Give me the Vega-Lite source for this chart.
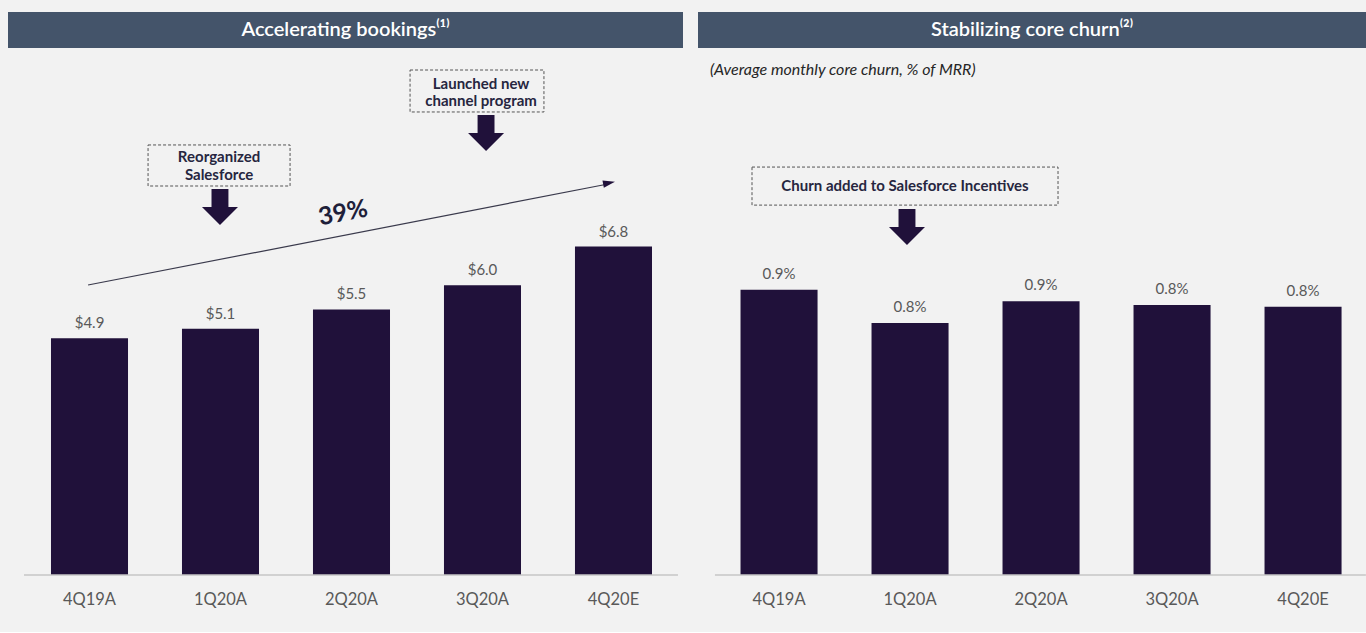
{
  "$schema": "https://vega.github.io/schema/vega-lite/v6.json",
  "background": "#f2f2f2",
  "padding": {"left": 8, "top": 12, "right": 0, "bottom": 24},
  "config": {
    "view": {"stroke": null},
    "font": "Lato",
    "axisX": {"domain": false, "ticks": false, "labelColor": "#595959", "labelFontSize": 16.5, "labelPadding": 16, "labelAngle": 0, "grid": false}
  },
  "spacing": 15,
  "hconcat": [
    {
      "spacing": 4,
      "vconcat": [
        {
          "width": 675, "height": 36,
          "view": {"fill": "#44546a", "stroke": null},
          "data": {"values": [{"t": "Accelerating bookings⁽¹⁾"}]},
          "mark": {"type": "text", "color": "#ffffff", "fontSize": 20, "fontWeight": 600, "font": "Lato"},
          "encoding": {"text": {"field": "t"}}
        },
        {
          "width": 675, "height": 523,
          "resolve": {"scale": {"x": "independent"}, "axis": {"x": "independent"}},
          "layer": [
            {
              "data": {"values": [
                {"q": "4Q19A", "v": 4.9, "lab": "$4.9"},
                {"q": "1Q20A", "v": 5.1, "lab": "$5.1"},
                {"q": "2Q20A", "v": 5.5, "lab": "$5.5"},
                {"q": "3Q20A", "v": 6.0, "lab": "$6.0"},
                {"q": "4Q20E", "v": 6.8, "lab": "$6.8"}
              ]},
              "encoding": {
                "x": {"field": "q", "type": "nominal", "sort": null, "title": null, "scale": {"paddingInner": 0.412, "paddingOuter": 0.2824, "align": 0.581}},
                "y": {"field": "v", "type": "quantitative", "axis": null, "scale": {"domain": [0, 10.83], "nice": false}}
              },
              "layer": [
                {"mark": {"type": "bar", "color": "#20113a"}},
                {"mark": {"type": "text", "baseline": "bottom", "dy": -7, "fontSize": 15, "color": "#595959"}, "encoding": {"text": {"field": "lab"}}}
              ]
            },
            {
              "data": {"values": [{"x1": 0, "x2": 4.992, "y": 0}]},
              "mark": {"type": "rule", "color": "#c6c6c6", "strokeWidth": 1.5},
              "encoding": {
                "x": {"field": "x1", "type": "quantitative", "axis": null, "scale": {"domain": [-0.1221, 5.0305], "nice": false, "zero": false}},
                "x2": {"field": "x2"},
                "y": {"field": "y", "type": "quantitative", "axis": null, "scale": {"domain": [0, 10.83], "nice": false}}
              }
            },
            {
              "data": {"values": [
                {"x1": 2.947, "x2": 3.969, "y1": 9.588, "y2": 10.457},
                {"x1": 0.947, "x2": 2.031, "y1": 8.055, "y2": 8.905}
              ]},
              "mark": {"type": "rect", "fillOpacity": 0, "stroke": "#555555", "strokeWidth": 1, "strokeDash": [3, 2]},
              "encoding": {
                "x": {"field": "x1", "type": "quantitative", "axis": null, "scale": {"domain": [-0.1221, 5.0305], "nice": false, "zero": false}},
                "x2": {"field": "x2"},
                "y": {"field": "y1", "type": "quantitative", "axis": null, "scale": {"domain": [0, 10.83], "nice": false}},
                "y2": {"field": "y2"}
              }
            },
            {
              "data": {"values": [
                {"x": 3.489, "y": 10.168, "t": "Launched new"},
                {"x": 3.489, "y": 9.816, "t": "channel program"},
                {"x": 1.489, "y": 8.656, "t": "Reorganized"},
                {"x": 1.489, "y": 8.283, "t": "Salesforce"}
              ]},
              "mark": {"type": "text", "fontSize": 15, "fontWeight": "bold", "color": "#262640"},
              "encoding": {
                "x": {"field": "x", "type": "quantitative", "axis": null, "scale": {"domain": [-0.1221, 5.0305], "nice": false, "zero": false}},
                "y": {"field": "y", "type": "quantitative", "axis": null, "scale": {"domain": [0, 10.83], "nice": false}},
                "text": {"field": "t"}
              }
            },
            {
              "data": {"values": [
                {"x": 3.527, "y": 9.153},
                {"x": 1.496, "y": 7.621}
              ]},
              "mark": {"type": "point", "filled": true, "opacity": 1, "color": "#20113a", "size": 1296, "shape": "M-0.47,-1L0.47,-1L0.47,0L1,0L0,1L-1,0L-0.47,0Z"},
              "encoding": {
                "x": {"field": "x", "type": "quantitative", "axis": null, "scale": {"domain": [-0.1221, 5.0305], "nice": false, "zero": false}},
                "y": {"field": "y", "type": "quantitative", "axis": null, "scale": {"domain": [0, 10.83], "nice": false}}
              }
            },
            {
              "data": {"values": [
                {"x": 0.489, "y": 6.005},
                {"x": 4.458, "y": 8.097}
              ]},
              "mark": {"type": "line", "color": "#3a3a4c", "strokeWidth": 1.2},
              "encoding": {
                "x": {"field": "x", "type": "quantitative", "axis": null, "scale": {"domain": [-0.1221, 5.0305], "nice": false, "zero": false}},
                "y": {"field": "y", "type": "quantitative", "axis": null, "scale": {"domain": [0, 10.83], "nice": false}}
              }
            },
            {
              "data": {"values": [{"x": 4.466, "y": 8.118}]},
              "mark": {"type": "point", "filled": true, "opacity": 1, "color": "#20113a", "size": 144, "angle": 349, "shape": "M-1,-0.6L1,0L-1,0.6Z"},
              "encoding": {
                "x": {"field": "x", "type": "quantitative", "axis": null, "scale": {"domain": [-0.1221, 5.0305], "nice": false, "zero": false}},
                "y": {"field": "y", "type": "quantitative", "axis": null, "scale": {"domain": [0, 10.83], "nice": false}}
              }
            },
            {
              "data": {"values": [{"x": 2.435, "y": 7.496, "t": "39%"}]},
              "mark": {"type": "text", "fontSize": 25, "fontWeight": "bold", "color": "#1f1f3a", "angle": 349},
              "encoding": {
                "x": {"field": "x", "type": "quantitative", "axis": null, "scale": {"domain": [-0.1221, 5.0305], "nice": false, "zero": false}},
                "y": {"field": "y", "type": "quantitative", "axis": null, "scale": {"domain": [0, 10.83], "nice": false}},
                "text": {"field": "t"}
              }
            }
          ]
        }
      ]
    },
    {
      "spacing": 4,
      "vconcat": [
        {
          "width": 668, "height": 36,
          "view": {"fill": "#44546a", "stroke": null},
          "data": {"values": [{"t": "Stabilizing core churn⁽²⁾"}]},
          "mark": {"type": "text", "color": "#ffffff", "fontSize": 20, "fontWeight": 600, "font": "Lato"},
          "encoding": {"text": {"field": "t"}}
        },
        {
          "width": 668, "height": 523,
          "resolve": {"scale": {"x": "independent"}, "axis": {"x": "independent"}},
          "layer": [
            {
              "data": {"values": [
                {"q": "4Q19A", "v": 0.9, "lab": "0.9%"},
                {"q": "1Q20A", "v": 0.795, "lab": "0.8%"},
                {"q": "2Q20A", "v": 0.864, "lab": "0.9%"},
                {"q": "3Q20A", "v": 0.852, "lab": "0.8%"},
                {"q": "4Q20E", "v": 0.846, "lab": "0.8%"}
              ]},
              "encoding": {
                "x": {"field": "q", "type": "nominal", "sort": null, "title": null, "scale": {"paddingInner": 0.412, "paddingOuter": 0.2556, "align": 0.635}},
                "y": {"field": "v", "type": "quantitative", "axis": null, "scale": {"domain": [0, 1.65], "nice": false}}
              },
              "layer": [
                {"mark": {"type": "bar", "color": "#20113a"}},
                {"mark": {"type": "text", "baseline": "bottom", "dy": -8, "fontSize": 15, "color": "#595959"}, "encoding": {"text": {"field": "lab"}}}
              ]
            },
            {
              "data": {"values": [{"x1": 0.011, "x2": 4.98, "y": 0}]},
              "mark": {"type": "rule", "color": "#c6c6c6", "strokeWidth": 1.5},
              "encoding": {
                "x": {"field": "x1", "type": "quantitative", "axis": null, "scale": {"domain": [-0.1183, 4.9809], "nice": false, "zero": false}},
                "x2": {"field": "x2"},
                "y": {"field": "y", "type": "quantitative", "axis": null, "scale": {"domain": [0, 1.65], "nice": false}}
              }
            },
            {
              "data": {"values": [{"x": -0.027, "y": 1.593, "t": "(Average monthly core churn, % of MRR)"}]},
              "mark": {"type": "text", "fontSize": 16, "fontStyle": "italic", "color": "#262626", "align": "left"},
              "encoding": {
                "x": {"field": "x", "type": "quantitative", "axis": null, "scale": {"domain": [-0.1183, 4.9809], "nice": false, "zero": false}},
                "y": {"field": "y", "type": "quantitative", "axis": null, "scale": {"domain": [0, 1.65], "nice": false}},
                "text": {"field": "t"}
              }
            },
            {
              "data": {"values": [{"x1": 0.294, "x2": 2.63, "y1": 1.167, "y2": 1.287}]},
              "mark": {"type": "rect", "fillOpacity": 0, "stroke": "#555555", "strokeWidth": 1, "strokeDash": [3, 2]},
              "encoding": {
                "x": {"field": "x1", "type": "quantitative", "axis": null, "scale": {"domain": [-0.1183, 4.9809], "nice": false, "zero": false}},
                "x2": {"field": "x2"},
                "y": {"field": "y1", "type": "quantitative", "axis": null, "scale": {"domain": [0, 1.65], "nice": false}},
                "y2": {"field": "y2"}
              }
            },
            {
              "data": {"values": [{"x": 1.462, "y": 1.227, "t": "Churn added to Salesforce Incentives"}]},
              "mark": {"type": "text", "fontSize": 15, "fontWeight": "bold", "color": "#262640"},
              "encoding": {
                "x": {"field": "x", "type": "quantitative", "axis": null, "scale": {"domain": [-0.1183, 4.9809], "nice": false, "zero": false}},
                "y": {"field": "y", "type": "quantitative", "axis": null, "scale": {"domain": [0, 1.65], "nice": false}},
                "text": {"field": "t"}
              }
            },
            {
              "data": {"values": [{"x": 1.477, "y": 1.098}]},
              "mark": {"type": "point", "filled": true, "opacity": 1, "color": "#20113a", "size": 1296, "shape": "M-0.47,-1L0.47,-1L0.47,0L1,0L0,1L-1,0L-0.47,0Z"},
              "encoding": {
                "x": {"field": "x", "type": "quantitative", "axis": null, "scale": {"domain": [-0.1183, 4.9809], "nice": false, "zero": false}},
                "y": {"field": "y", "type": "quantitative", "axis": null, "scale": {"domain": [0, 1.65], "nice": false}}
              }
            }
          ]
        }
      ]
    }
  ]
}
